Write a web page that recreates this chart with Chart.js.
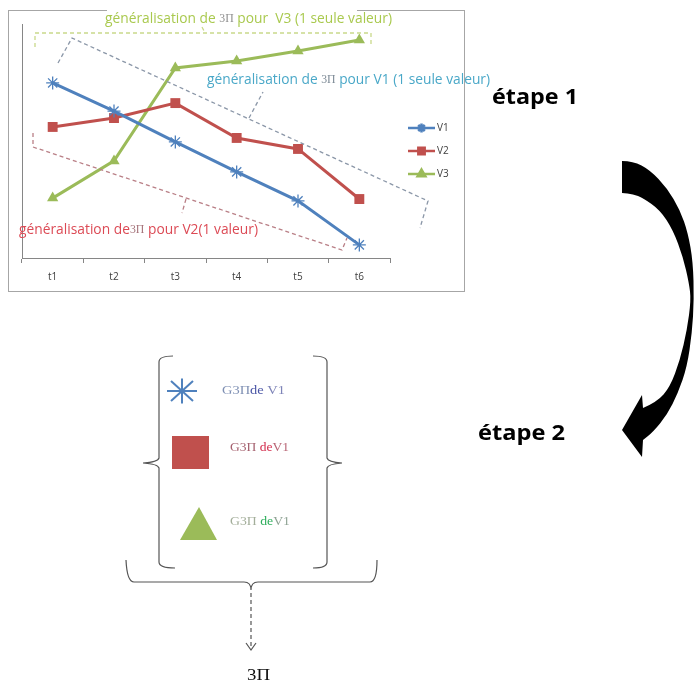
<!DOCTYPE html>
<html>
<head>
<meta charset="utf-8">
<script src="https://cdn.jsdelivr.net/npm/chart.js@4.4.1/dist/chart.umd.min.js"></script>
<style>
  html, body { margin: 0; padding: 0; background: #ffffff; }
  #c { display: block; }
</style>
</head>
<body>
<canvas id="c" width="694" height="689"></canvas>
<script>
// Time steps and the three series (arbitrary units, 0–10)
const categories = ['t1', 't2', 't3', 't4', 't5', 't6'];
const seriesNames = ['V1', 'V2', 'V3'];
const v1Values = [7.48, 6.28, 4.96, 3.68, 2.44, 0.56];
const v2Values = [5.60, 5.98, 6.62, 5.13, 4.66, 2.52];
const v3Values = [2.56, 4.15, 8.12, 8.42, 8.85, 9.32];

const BLUE = '#4f81bd', RED = '#c0504d', GREEN = '#9bbb59';
const SANS = '"Open Sans", "Liberation Sans", sans-serif';
const SERIF = '"Liberation Serif", "DejaVu Serif", serif';

// Draw a run of differently styled text pieces, squeezed to span x0..x1
function fitText(ctx, parts, x0, x1, yMid) {
  let total = 0;
  parts.forEach(p => { ctx.font = p.font; p.w = ctx.measureText(p.text).width; total += p.w; });
  const s = (x1 - x0) / total;
  ctx.save();
  ctx.translate(x0, yMid);
  ctx.scale(s, 1);
  ctx.textBaseline = 'middle';
  ctx.textAlign = 'left';
  let x = 0;
  parts.forEach(p => { ctx.font = p.font; ctx.fillStyle = p.color; ctx.fillText(p.text, x, 0); x += p.w; });
  ctx.restore();
}

function polyline(ctx, pts) {
  ctx.beginPath();
  ctx.moveTo(pts[0][0], pts[0][1]);
  for (let i = 1; i < pts.length; i++) ctx.lineTo(pts[i][0], pts[i][1]);
  ctx.stroke();
}

// Smooth run through points (midpoint quadratic smoothing); continues the current path
function smoothRun(ctx, pts, start) {
  if (start) ctx.moveTo(pts[0][0], pts[0][1]);
  else ctx.lineTo(pts[0][0], pts[0][1]);
  for (let i = 1; i < pts.length - 1; i++) {
    const mx = (pts[i][0] + pts[i + 1][0]) / 2, my = (pts[i][1] + pts[i + 1][1]) / 2;
    ctx.quadraticCurveTo(pts[i][0], pts[i][1], mx, my);
  }
  const last = pts[pts.length - 1];
  ctx.lineTo(last[0], last[1]);
}

const diagramPlugin = {
  id: 'diagram',
  beforeDraw(chart) {
    const ctx = chart.ctx;
    ctx.save();
    ctx.fillStyle = '#ffffff';
    ctx.fillRect(0, 0, chart.width, chart.height);
    // chart frame
    ctx.strokeStyle = '#a6a6a6';
    ctx.lineWidth = 1;
    ctx.strokeRect(8.5, 10.5, 456, 281);
    ctx.fillStyle = '#ffffff';
    ctx.fillRect(107, 5, 250, 11);
    ctx.restore();
  },
  afterDraw(chart) {
    const ctx = chart.ctx;
    ctx.save();

    // ---- dashed brackets grouping the series ----
    ctx.lineWidth = 1.3;
    ctx.setLineDash([4, 3]);
    ctx.strokeStyle = '#c9d98a';
    polyline(ctx, [[35, 47], [35, 33], [371, 33], [371, 47]]);
    polyline(ctx, [[202, 27], [205, 33]]);

    ctx.strokeStyle = '#8b97a8';
    polyline(ctx, [[58, 63], [72, 38], [428, 201], [420, 228]]);
    polyline(ctx, [[249, 118], [263, 92]]);

    ctx.strokeStyle = '#b97f86';
    polyline(ctx, [[33, 133], [33, 147], [342, 250], [347, 238]]);
    polyline(ctx, [[186, 199], [182, 213]]);
    ctx.setLineDash([]);

    // ---- annotation labels ----
    fitText(ctx, [
      { text: 'généralisation de ', font: '14px ' + SANS, color: '#a9c94e' },
      { text: '3Π', font: '12px ' + SERIF, color: '#8e8e8e' },
      { text: ' pour  V3 (1 seule valeur)', font: '14px ' + SANS, color: '#a9c94e' }
    ], 105, 392, 19);
    fitText(ctx, [
      { text: 'généralisation de ', font: '14px ' + SANS, color: '#4aa8c8' },
      { text: '3Π', font: '12px ' + SERIF, color: '#7d8a96' },
      { text: ' pour V1 (1 seule valeur)', font: '14px ' + SANS, color: '#4aa8c8' }
    ], 207, 490, 80);
    fitText(ctx, [
      { text: 'généralisation de', font: '14px ' + SANS, color: '#dc4a55' },
      { text: '3Π', font: '12px ' + SERIF, color: '#a5737a' },
      { text: ' pour V2(1 valeur)', font: '14px ' + SANS, color: '#dc4a55' }
    ], 19, 258, 230);

    // ---- legend (line + marker) ----
    chart.data.datasets.forEach((ds, i) => {
      const y = 128 + i * 23;
      ctx.strokeStyle = ds.borderColor;
      ctx.lineWidth = 2.5;
      polyline(ctx, [[408, y], [435, y]]);
      ctx.fillStyle = ds.pointBackgroundColor;
      ctx.strokeStyle = ds.pointBorderColor;
      Chart.helpers.drawPoint(ctx, { pointStyle: ds.pointStyle, radius: 4.5, rotation: 0, borderWidth: 1.2 }, 421.5, y);
      ctx.fillStyle = '#404040';
      ctx.font = '10px ' + SANS;
      ctx.textBaseline = 'middle';
      ctx.textAlign = 'left';
      ctx.fillText(ds.label, 437, y);
    });

    // ---- step labels ----
    fitText(ctx, [{ text: 'étape 1', font: 'bold 21px ' + SANS, color: '#000000' }], 492, 578, 98);
    fitText(ctx, [{ text: 'étape 2', font: 'bold 21px ' + SANS, color: '#000000' }], 478, 565, 434);

    // ---- curved arrow from step 1 to step 2 ----
    ctx.fillStyle = '#000000';
    ctx.beginPath();
    smoothRun(ctx, [
      [622, 161], [633, 161], [650, 170], [667, 188], [680, 210], [688, 233],
      [693, 262], [694, 300], [692, 333], [687, 367], [678, 393], [667, 415],
      [653, 432], [643, 440]
    ], true);
    ctx.lineTo(642, 457);
    ctx.lineTo(622, 430);
    ctx.lineTo(642, 395);
    smoothRun(ctx, [
      [643, 408], [657, 402], [670, 387], [680, 360], [687, 330], [691, 300],
      [689, 283], [683, 257], [673, 230], [660, 210], [643, 198], [633, 194], [622, 193]
    ], false);
    ctx.closePath();
    ctx.fill();

    // ---- step 2: grouped markers ----
    ctx.strokeStyle = '#555555';
    ctx.lineWidth = 1.2;
    // inner square brackets with a curly point
    ctx.beginPath();
    ctx.moveTo(173, 356);
    ctx.quadraticCurveTo(159, 356, 159, 362);
    ctx.lineTo(159, 458);
    ctx.quadraticCurveTo(158, 462, 143, 463);
    ctx.quadraticCurveTo(158, 464, 159, 468);
    ctx.lineTo(159, 562);
    ctx.quadraticCurveTo(159, 568, 175, 568);
    ctx.stroke();
    ctx.beginPath();
    ctx.moveTo(313, 356);
    ctx.quadraticCurveTo(327, 356, 327, 362);
    ctx.lineTo(327, 458);
    ctx.quadraticCurveTo(328, 462, 342, 463);
    ctx.quadraticCurveTo(328, 464, 327, 468);
    ctx.lineTo(327, 562);
    ctx.quadraticCurveTo(327, 568, 313, 568);
    ctx.stroke();
    // outer brace underneath
    ctx.beginPath();
    ctx.moveTo(126, 560);
    ctx.quadraticCurveTo(127, 582, 134, 582);
    ctx.lineTo(244, 582);
    ctx.quadraticCurveTo(251, 582, 251, 590);
    ctx.quadraticCurveTo(251, 582, 258, 582);
    ctx.lineTo(370, 582);
    ctx.quadraticCurveTo(377, 582, 377, 560);
    ctx.stroke();
    // dashed arrow down to the result
    ctx.setLineDash([4, 3]);
    polyline(ctx, [[251, 593], [251, 648]]);
    ctx.setLineDash([]);
    polyline(ctx, [[246, 643], [251, 650], [256, 643]]);

    // asterisk
    ctx.strokeStyle = BLUE;
    ctx.lineWidth = 2;
    const ax = 182, ay = 391;
    polyline(ctx, [[ax - 15, ay], [ax + 15, ay]]);
    polyline(ctx, [[ax, ay - 12.5], [ax, ay + 12.5]]);
    polyline(ctx, [[ax - 11, ay - 10], [ax + 11, ay + 10]]);
    polyline(ctx, [[ax - 11, ay + 10], [ax + 11, ay - 10]]);
    // square
    ctx.fillStyle = RED;
    ctx.fillRect(172, 436, 37, 33);
    // triangle
    ctx.fillStyle = GREEN;
    ctx.beginPath();
    ctx.moveTo(199, 507);
    ctx.lineTo(217, 540);
    ctx.lineTo(180, 540);
    ctx.closePath();
    ctx.fill();

    fitText(ctx, [
      { text: 'G3Π', font: '13px ' + SERIF, color: '#7f90b4' },
      { text: 'de', font: '13px ' + SERIF, color: '#4b56a6' },
      { text: ' V1', font: '13px ' + SERIF, color: '#7e84b8' }
    ], 222, 285, 391);
    fitText(ctx, [
      { text: 'G3Π ', font: '13px ' + SERIF, color: '#a4606e' },
      { text: 'de', font: '13px ' + SERIF, color: '#d42e4e' },
      { text: 'V1', font: '13px ' + SERIF, color: '#b86676' }
    ], 230, 289, 448);
    fitText(ctx, [
      { text: 'G3Π ', font: '13px ' + SERIF, color: '#a3ae9a' },
      { text: 'de', font: '13px ' + SERIF, color: '#2fae5c' },
      { text: 'V1', font: '13px ' + SERIF, color: '#8fa394' }
    ], 230, 290, 522);

    fitText(ctx, [{ text: '3Π', font: '16px ' + SERIF, color: '#111111' }], 247, 270, 676);

    ctx.restore();
  }
};

new Chart(document.getElementById('c'), {
  type: 'line',
  data: {
    labels: categories,
    datasets: [
      { label: seriesNames[0], data: v1Values, borderColor: BLUE, borderWidth: 3,
        pointStyle: 'star', pointRadius: 6.5, pointBorderWidth: 1.3,
        pointBorderColor: BLUE, pointBackgroundColor: BLUE },
      { label: seriesNames[1], data: v2Values, borderColor: RED, borderWidth: 3,
        pointStyle: 'rect', pointRadius: 7, pointBorderWidth: 0,
        pointBorderColor: RED, pointBackgroundColor: RED },
      { label: seriesNames[2], data: v3Values, borderColor: GREEN, borderWidth: 3,
        pointStyle: 'triangle', pointRadius: 6.5, pointBorderWidth: 0,
        pointBorderColor: GREEN, pointBackgroundColor: GREEN }
    ]
  },
  options: {
    responsive: false,
    animation: false,
    layout: { padding: { left: 22, top: 24, right: 304, bottom: 401 } },
    plugins: { legend: { display: false }, tooltip: { enabled: false } },
    scales: {
      x: {
        offset: true,
        grid: { offset: true, drawOnChartArea: false, drawTicks: true, tickLength: 5, color: '#868686' },
        border: { color: '#868686' },
        ticks: { color: '#404040', font: { size: 10, family: SANS }, padding: 8 },
        afterFit(s) { s.height = 30; }
      },
      y: {
        min: 0, max: 10,
        ticks: { display: false },
        grid: { display: false, drawTicks: false },
        border: { color: '#868686' },
        afterFit(s) { s.width = 0; }
      }
    }
  },
  plugins: [diagramPlugin]
});
</script>
</body>
</html>
